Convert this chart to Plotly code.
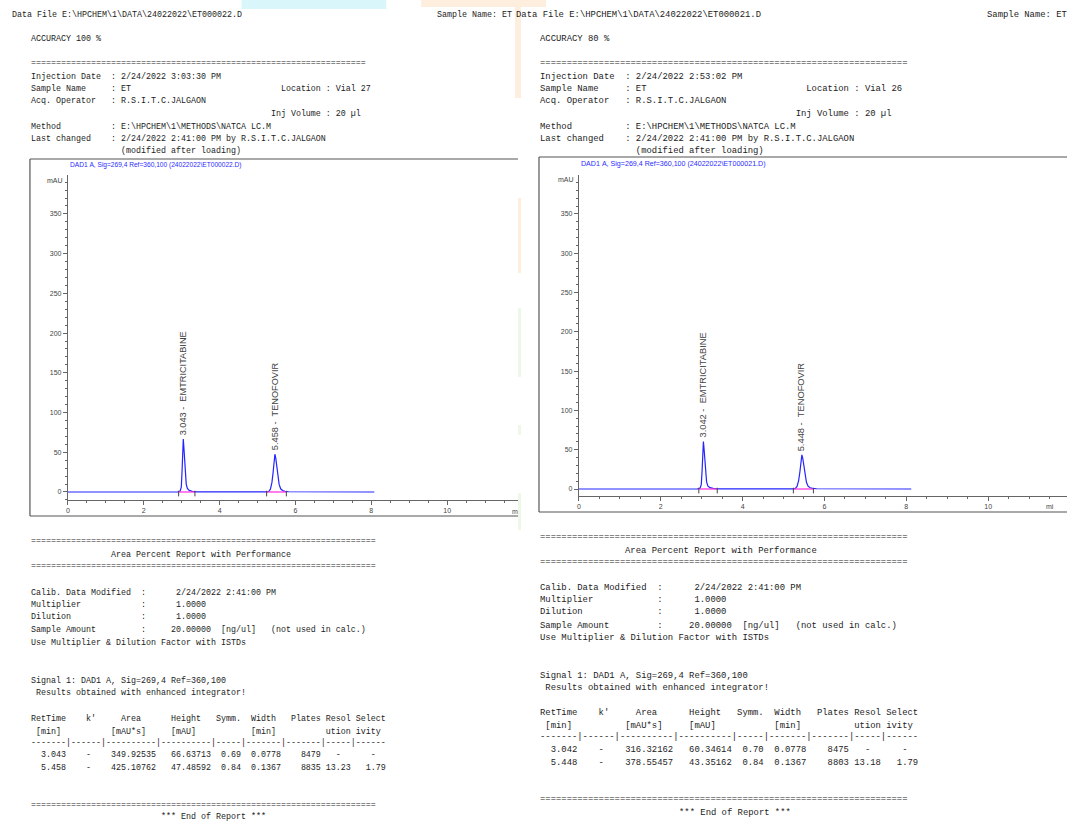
import plotly.graph_objects as go

W, H = 1067, 825

# ---------------- chromatogram data ----------------
left_time = [0.00, 2.50, 2.58, 2.62, 2.68, 2.90, 2.96, 2.99, 3.01, 3.025, 3.043, 3.06, 3.08, 3.10,
             3.12, 3.15, 3.20, 3.28, 3.40, 5.25, 5.30, 5.34, 5.38, 5.41, 5.435, 5.458, 5.48, 5.51,
             5.54, 5.57, 5.61, 5.66, 5.72, 5.82, 8.08]
left_signal = [0.0, 0.0, 0.6, 0.8, 0.3, 0.2, 1.2, 6.0, 26.0, 50.0, 66.6, 55.0, 37.0, 20.0,
               10.0, 4.5, 2.0, 0.8, 0.2, 0.1, 0.8, 3.5, 12.0, 24.0, 38.0, 47.5, 43.0, 30.0,
               18.0, 9.5, 4.0, 1.8, 0.8, 0.3, 0.0]
right_time = [0.00, 2.50, 2.58, 2.62, 2.68, 2.90, 2.96, 2.99, 3.01, 3.025, 3.042, 3.06, 3.08, 3.10,
              3.12, 3.15, 3.20, 3.28, 3.40, 5.24, 5.29, 5.33, 5.37, 5.40, 5.425, 5.448, 5.47, 5.50,
              5.53, 5.56, 5.60, 5.65, 5.71, 5.81, 8.12]
right_signal = [0.0, 0.0, 0.5, 0.7, 0.3, 0.2, 1.1, 5.5, 23.5, 45.0, 60.3, 50.0, 33.5, 18.0,
                9.0, 4.0, 1.8, 0.7, 0.2, 0.1, 0.7, 3.2, 11.0, 22.0, 34.5, 43.4, 39.0, 27.0,
                16.5, 8.5, 3.6, 1.6, 0.7, 0.3, 0.0]

left_base_start = [2.92, 5.24]
left_base_end = [3.35, 5.76]
right_base_start = [2.93, 5.24]
right_base_end = [3.38, 5.73]

# ---------------- report tables ----------------
compounds = ["EMTRICITABINE", "TENOFOVIR"]
left_rt = [3.043, 5.458]
left_area = [349.92535, 425.10762]
left_height = [66.63713, 47.48592]
left_symm = [0.69, 0.84]
left_width = [0.0778, 0.1367]
left_plates = [8479, 8835]
left_resol = ["-", "13.23"]
left_select = ["-", "1.79"]

right_rt = [3.042, 5.448]
right_area = [316.32162, 378.55457]
right_height = [60.34614, 43.35162]
right_symm = [0.70, 0.84]
right_width = [0.0778, 0.1367]
right_plates = [8475, 8803]
right_resol = ["-", "13.18"]
right_select = ["-", "1.79"]

left_header = {
    "file": r"Data File E:\HPCHEM\1\DATA\24022022\ET000022.D",
    "sample": "Sample Name: ET",
    "accuracy": "ACCURACY 100 %",
    "inj_date": "2/24/2022 3:03:30 PM",
    "vial": "Vial 27",
    "signal_title": r"DAD1 A, Sig=269,4 Ref=360,100 (24022022\ET000022.D)",
}
right_header = {
    "file": r"Data File E:\HPCHEM\1\DATA\24022022\ET000021.D",
    "sample": "Sample Name: ET",
    "accuracy": "ACCURACY 80 %",
    "inj_date": "2/24/2022 2:53:02 PM",
    "vial": "Vial 26",
    "signal_title": r"DAD1 A, Sig=269,4 Ref=360,100 (24022022\ET000021.D)",
}

MONO = "Liberation Mono, Courier New, monospace"
SANS = "Liberation Sans, Arial, sans-serif"
TXT = "#1c1c1c"

annotations = []
shapes = []


def place(pairs):
    s = [" "] * 90
    for c, t in pairs:
        s[c:c + len(t)] = list(t)
    return "".join(s).rstrip()


def esc(s):
    return s.replace("&", "&amp;").replace(" ", "\u00a0")


def txt(x, y, s, size, font=MONO, color=TXT, anchor="left"):
    annotations.append(dict(
        x=x / W, y=1 - y / H, xref="paper", yref="paper", text=esc(s), showarrow=False,
        xanchor=anchor, yanchor="middle", borderpad=0, xshift=-1,
        font=dict(family=font, size=size, color=color)))


def hline(x0, x1, y, color="#555", width=1.2):
    shapes.append(dict(type="line", xref="paper", yref="paper", x0=x0 / W, x1=x1 / W,
                       y0=1 - y / H, y1=1 - y / H, line=dict(color=color, width=width)))


def vline(x, y0, y1, color="#555", width=1.2):
    shapes.append(dict(type="line", xref="paper", yref="paper", x0=x / W, x1=x / W,
                       y0=1 - y0 / H, y1=1 - y1 / H, line=dict(color=color, width=width)))


def rect(x0, y0, x1, y1, color):
    shapes.append(dict(type="rect", xref="paper", yref="paper", x0=x0 / W, x1=x1 / W,
                       y0=1 - y1 / H, y1=1 - y0 / H, line=dict(width=0), fillcolor=color,
                       layer="below"))


# faint background stripes
rect(240, 0, 385, 9, "#d9f6fb")
rect(420, 0, 545, 7, "#fdeedd")
rect(514, 0, 520, 98, "#fdeedd")
rect(517, 198, 520, 273, "#fdeedd")
rect(517, 308, 520, 377, "#eef8e6")
rect(517, 425, 520, 435, "#eef8e6")
rect(517, 493, 520, 530, "#eef8e6")


def report(x0, fs, hdr, ys, rt, area, height, symm, width, plates, resol, select, eq_top):
    cw = fs * 0.6
    X = lambda col: x0 + col * cw
    eq = "=" * 69
    txt(X(0), ys["acc"], hdr["accuracy"], fs)
    txt(X(0), ys["eq1"], "=" * eq_top, fs)
    top_lines = [
        place([(0, "Injection Date"), (16, ": " + hdr["inj_date"])]),
        place([(0, "Sample Name"), (16, ": ET"), (50, "Location : " + hdr["vial"])]),
        place([(0, "Acq. Operator"), (16, ": R.S.I.T.C.JALGAON")]),
        place([(48, "Inj Volume : 20 µl")]),
        place([(0, "Method"), (16, r": E:\HPCHEM\1\METHODS\NATCA LC.M")]),
        place([(0, "Last changed"), (16, ": 2/24/2022 2:41:00 PM by R.S.I.T.C.JALGAON")]),
        place([(18, "(modified after loading)")]),
    ]
    for yy, line in zip(ys["top"], top_lines):
        txt(X(0), yy, line, fs)

    txt(X(0), ys["eq2"], eq, fs)
    txt(X(16), ys["apr"], "Area Percent Report with Performance", fs)
    txt(X(0), ys["eq3"], eq, fs)
    calib = [
        place([(0, "Calib. Data Modified"), (22, ":"), (29, "2/24/2022 2:41:00 PM")]),
        place([(0, "Multiplier"), (22, ":"), (29, "1.0000")]),
        place([(0, "Dilution"), (22, ":"), (29, "1.0000")]),
        place([(0, "Sample Amount"), (22, ":"), (28, "20.00000"), (38, "[ng/ul]"),
               (48, "(not used in calc.)")]),
        "Use Multiplier & Dilution Factor with ISTDs",
    ]
    for yy, line in zip(ys["calib"], calib):
        txt(X(0), yy, line, fs)
    txt(X(0), ys["sig"], "Signal 1: DAD1 A, Sig=269,4 Ref=360,100", fs)
    txt(X(0), ys["res"], " Results obtained with enhanced integrator!", fs)
    h1 = place([(0, "RetTime"), (11, "k'"), (18, "Area"), (28, "Height"), (37, "Symm."),
                (44, "Width"), (52, "Plates"), (59, "Resol"), (65, "Select")])
    h2 = place([(1, "[min]"), (16, "[mAU*s]"), (28, "[mAU]"), (44, "[min]"), (59, "ution"),
                (65, "ivity")])
    dash = "-------|------|----------|----------|-----|-------|-------|-----|------"
    txt(X(0), ys["h1"], h1, fs)
    txt(X(0), ys["h2"], h2, fs)
    txt(X(0), ys["dash"], dash, fs)
    for i in range(len(rt)):
        row = place([(2, f"{rt[i]:.3f}"), (11, "-"), (16, f"{area[i]:.5f}"),
                     (28, f"{height[i]:.5f}"), (38, f"{symm[i]:.2f}"), (44, f"{width[i]:.4f}"),
                     (54, f"{plates[i]}"),
                     (59 if resol[i] != "-" else 61, resol[i]),
                     (67 if select[i] != "-" else 68, select[i])])
        txt(X(0), ys["rows"][i], row, fs)
    txt(X(0), ys["eq4"], eq, fs)
    txt(X(26), ys["end"], "*** End of Report ***", fs)


# left report
txt(10, 15, left_header["file"], 8.33)
txt(436, 15, left_header["sample"], 8.33)
report(29, 8.33, left_header,
       dict(acc=39, eq1=63, top=[77, 89, 101, 114, 127, 139, 151], eq2=541, apr=555, eq3=566,
            calib=[593, 605, 617, 630, 643], sig=681, res=693, h1=719, h2=732, dash=743,
            rows=[755, 768], eq4=805, end=817),
       left_rt, left_area, left_height, left_symm, left_width, left_plates, left_resol,
       left_select, 67)

# right report
txt(515, 15, right_header["file"], 8.9)
txt(987, 15, right_header["sample"], 8.9)
report(539, 8.9, right_header,
       dict(acc=39, eq1=63, top=[77, 89, 101, 114, 127, 139, 151], eq2=537, apr=551, eq3=562,
            calib=[588, 600, 612, 626, 638], sig=676, res=688, h1=713, h2=726, dash=737,
            rows=[750, 763], eq4=799, end=813),
       right_rt, right_area, right_height, right_symm, right_width, right_plates, right_resol,
       right_select, 69)

# chart boxes
hline(28, 517, 159)
vline(28, 159, 516)
hline(28, 517, 516)
hline(538, 1067, 157)
vline(538, 157, 512)
hline(538, 1067, 512)

# chart titles and unit labels
txt(68, 165, left_header["signal_title"], 6.6, font=SANS, color="#2b2bff")
txt(580, 164, right_header["signal_title"], 7.1, font=SANS, color="#2b2bff")
txt(45, 181, "mAU", 7, font=SANS, color="#444")
txt(557, 179, "mAU", 7, font=SANS, color="#444")
txt(511, 511, "m", 7, font=SANS, color="#444")
txt(1046, 507, "mi", 7, font=SANS, color="#444")

fig = go.Figure()

BLUE = "#2424ff"
PINK = "#ff38e0"

fig.add_trace(go.Scatter(x=left_time, y=left_signal, mode="lines", line=dict(color=BLUE, width=1.2),
                         xaxis="x", yaxis="y", showlegend=False, hoverinfo="skip"))
fig.add_trace(go.Scatter(x=right_time, y=right_signal, mode="lines", line=dict(color=BLUE, width=1.2),
                         xaxis="x2", yaxis="y2", showlegend=False, hoverinfo="skip"))

for xs, xe, ax, ay in [(left_base_start, left_base_end, "x", "y"),
                       (right_base_start, right_base_end, "x2", "y2")]:
    for a, b in zip(xs, xe):
        fig.add_trace(go.Scatter(x=[a, b], y=[0, 0], mode="lines", line=dict(color=PINK, width=1.3),
                                 xaxis=ax, yaxis=ay, showlegend=False, hoverinfo="skip"))
        fig.add_trace(go.Scatter(x=[a, b], y=[-2, -2], mode="markers",
                                 marker=dict(symbol="line-ns", size=4,
                                             line=dict(color="#444", width=1)),
                                 xaxis=ax, yaxis=ay, showlegend=False, hoverinfo="skip"))

# peak labels
for rts, hts, ax, ay, fs in [(left_rt, left_height, "x", "y", 9.2),
                             (right_rt, right_height, "x2", "y2", 9.3)]:
    for r, h, name in zip(rts, hts, compounds):
        annotations.append(dict(x=r, y=h, xref=ax, yref=ay, text=esc(f"{r:.3f} -  {name}"),
                                showarrow=False, textangle=-90, xanchor="center",
                                yanchor="bottom", yshift=3, borderpad=0,
                                font=dict(family=SANS, size=fs, color="#444")))

axis_common = dict(showline=True, linecolor="#666", linewidth=1, ticks="outside", ticklen=4,
                   tickcolor="#666", showgrid=False, zeroline=False,
                   tickfont=dict(family=SANS, size=7, color="#444"))

lx0, lx1 = 66, 517
rx0, rx1 = 578, 1067
fig.update_layout(
    width=W, height=H, margin=dict(l=0, r=0, t=0, b=0),
    paper_bgcolor="white", plot_bgcolor="rgba(0,0,0,0)",
    xaxis=dict(domain=[lx0 / W, lx1 / W], range=[0, (lx1 - lx0) / 38.0], dtick=2, tick0=0,
               anchor="y", minor=dict(dtick=0.5, ticklen=2, ticks="outside", tickcolor="#666"),
               **axis_common),
    yaxis=dict(domain=[1 - 500 / H, 1 - 175 / H], range=[-10.1, 399], dtick=50, tick0=0,
               anchor="x", minor=dict(dtick=10, ticklen=2, ticks="outside", tickcolor="#666"),
               **axis_common),
    xaxis2=dict(domain=[rx0 / W, 1.0], range=[0, (rx1 - rx0) / 41.0], dtick=2, tick0=0,
                anchor="y2", minor=dict(dtick=0.5, ticklen=2, ticks="outside", tickcolor="#666"),
                **axis_common),
    yaxis2=dict(domain=[1 - 496 / H, 1 - 175 / H], range=[-8.9, 399.5], dtick=50, tick0=0,
                anchor="x2", minor=dict(dtick=10, ticklen=2, ticks="outside", tickcolor="#666"),
                **axis_common),
    annotations=annotations,
    shapes=shapes,
)

fig.write_html("out.html")
